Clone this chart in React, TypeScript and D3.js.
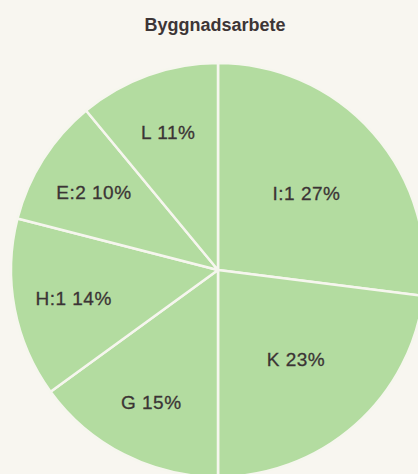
import { useEffect, useRef } from "react";
import * as d3 from "d3";

// slice codes and shares (%), clockwise from 12 o'clock
const codes = ["I:1", "K", "G", "H:1", "E:2", "L"];
const shares = [27, 23, 15, 14, 10, 11];
const title = "Byggnadsarbete";

export default function App() {
  const svgRef = useRef<SVGSVGElement | null>(null);

  useEffect(() => {
    if (!svgRef.current) return;
    const width = 418;
    const height = 474;
    const cx = 218;
    const cy = 270;
    const radius = 207;

    const rows = codes.map((code, i) => ({ code, value: shares[i] }));

    const svg = d3.select(svgRef.current);
    svg.selectAll("*").remove();
    svg.attr("viewBox", `0 0 ${width} ${height}`);

    svg
      .append("rect")
      .attr("width", width)
      .attr("height", height)
      .attr("fill", "#f8f6f0");

    svg
      .append("text")
      .attr("x", 215)
      .attr("y", 31)
      .attr("text-anchor", "middle")
      .attr("font-family", "'Liberation Sans', Arial, sans-serif")
      .attr("font-weight", "bold")
      .attr("font-size", 18)
      .attr("fill", "#3d3536")
      .text(title);

    const pie = d3
      .pie<(typeof rows)[number]>()
      .value((d) => d.value)
      .sort(null);
    const arcs = pie(rows);

    const arc = d3
      .arc<d3.PieArcDatum<(typeof rows)[number]>>()
      .innerRadius(0)
      .outerRadius(radius);

    const root = svg.append("g").attr("transform", `translate(${cx},${cy})`);

    root
      .selectAll("path.slice")
      .data(arcs)
      .join("path")
      .attr("class", "slice")
      .attr("d", arc)
      .attr("fill", "#b3dca0")
      .attr("stroke", "#f6f6ee")
      .attr("stroke-width", 2.5)
      .attr("stroke-linejoin", "round");

    // big slices keep their label nearer the centre
    const labelPos = (d: d3.PieArcDatum<(typeof rows)[number]>) => {
      const r = radius * (d.data.value > 20 ? 0.57 : 0.71);
      return d3.arc().innerRadius(r).outerRadius(r).centroid(d as any);
    };

    root
      .selectAll("text.label")
      .data(arcs)
      .join("text")
      .attr("class", "label")
      .attr("x", (d) => labelPos(d)[0])
      .attr("y", (d) => labelPos(d)[1])
      .attr("dy", "0.4em")
      .attr("text-anchor", "middle")
      .attr("font-family", "'Liberation Sans', Arial, sans-serif")
      .attr("font-size", 19)
      .attr("letter-spacing", 0.5)
      .attr("fill", "#3b3435")
      .attr("stroke", "#3b3435")
      .attr("stroke-width", 0.3)
      .text((d) => `${d.data.code} ${d.data.value}%`);
  }, []);

  return (
    <svg
      ref={svgRef}
      width={418}
      height={474}
      style={{ position: "fixed", left: 0, top: 0, display: "block" }}
    />
  );
}
